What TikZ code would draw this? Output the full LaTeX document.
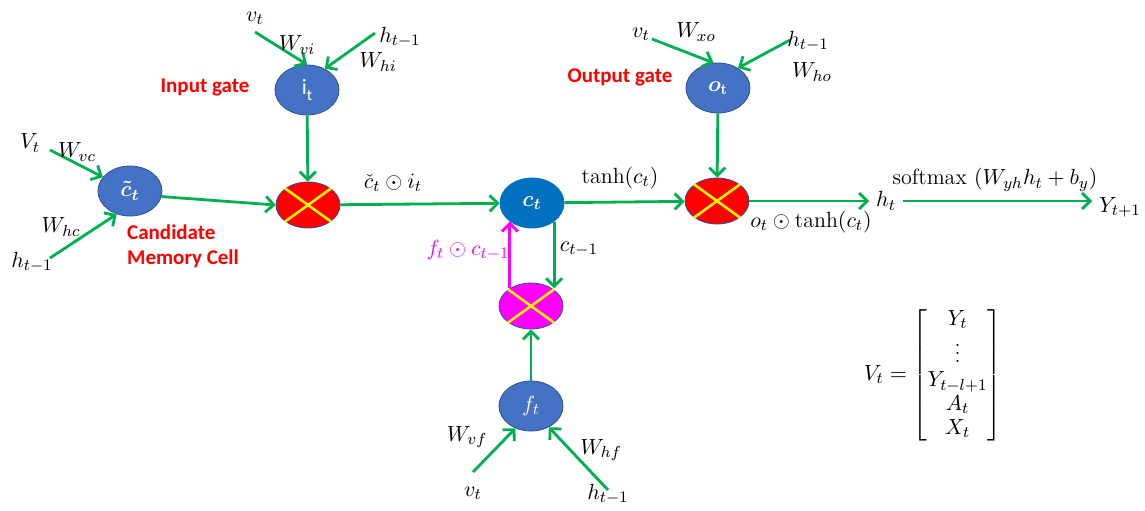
\documentclass[tikz,border=0pt]{standalone}
\usepackage{amsmath}
\usepackage{fontspec}
\newfontfamily\labelfont{Carlito}
\usetikzlibrary{arrows.meta,shapes.geometric}
\definecolor{flowgreen}{HTML}{00B050}
\definecolor{cellblue}{HTML}{4472C4}
\definecolor{cellrim}{HTML}{2F528F}
\definecolor{stateblue}{HTML}{0070C0}
\definecolor{forgetpink}{HTML}{FF00FF}

\begin{document}
\begin{tikzpicture}[
            x=0.5pt,
            y=-0.5pt,
            every node/.style={font=\fontsize{11}{13}\selectfont},
            unit/.style={ellipse, draw=cellrim, fill=cellblue, text=white,
              minimum width=32pt, minimum height=25pt, inner sep=0pt},
            mult/.style={unit, fill=red, minimum height=23pt},
            flow/.style={draw=flowgreen, line width=1.4pt,
              -{Straight Barb[length=4pt,width=8pt]}},
            cross/.style={draw=yellow, line width=1.3pt},
            gatelabel/.style={text=red, align=left,
              font=\labelfont\bfseries\fontsize{10.5}{12.5}\selectfont},
          ]
          \path[use as bounding box] (0,0) rectangle (1145,510);
          % cells and gates
          \node[unit] (cand) at (130,191) {$\boldsymbol{\tilde{c}_t}$};
          \node[unit] (igate) at (307,90) {\labelfont i\raisebox{-.5ex}{\footnotesize t}};
          \node[mult] (mi) at (308,205) {};
          \node[unit, fill=stateblue, draw=stateblue] (cstate) at (532,203) {$\boldsymbol{c_t}$};
          \node[mult, fill=forgetpink, draw=cellrim] (mf) at (531,306) {};
          \node[unit] (fgate) at (531,406) {$f_t$};
          \node[unit] (ogate) at (718,88) {$\boldsymbol{o}_{\mathbf{t}}$};
          \node[mult] (mo) at (717,201) {};
          \node (ht) at (886,201) {$h_t$};
          \node (yout) at (1120,207) {$Y_{t+1}$};
          \foreach \m in {mi,mf,mo} {
            \draw[cross] (\m.north east) -- (\m.south west);
            \draw[cross] (\m.north west) -- (\m.south east);
          }
          % inputs
          \coordinate (vc) at (50,150);
          \coordinate (hc) at (50,258);
          \coordinate (vi) at (255,32);
          \coordinate (hi) at (375,33);
          \coordinate (vo) at (652,39);
          \coordinate (ho) at (790,40);
          \coordinate (vf) at (473,472);
          \coordinate (hf) at (608,490);
          \draw[flow] (vc) -- (cand);
          \draw[flow] (hc) -- (cand.240);
          \draw[flow] (vi) -- (igate.north);
          \draw[flow] (hi) -- (igate.50);
          \draw[flow] (vo) -- (ogate.100);
          \draw[flow] (ho) -- (ogate.45);
          \draw[flow] (vf) -- (fgate.235);
          \draw[flow] (hf) -- (fgate.-50);
          % main flow
          \draw[flow] (cand.-10) -- (mi.west);
          \draw[flow] (igate) -- (mi);
          \draw[flow] (mi) -- (cstate);
          \draw[flow] (cstate) -- (mo);
          \draw[flow] (ogate) -- (mo);
          \draw[flow] (mo) -- (ht);
          \draw[flow] (ht) -- (ht -| yout.west);
          \draw[flow] (fgate) -- (mf);
          \draw[flow] (cstate.-40) -- (cstate.-40 |- mf.40);
          \draw[flow, draw=forgetpink] (mf.140) -- (mf.140 |- cstate.-140);
          % labels
          \node (lvc) at (30,143) {$V_t$};
          \node (lwvc) at (77,152) {$W_{vc}$};
          \node (lwhc) at (61,227) {$W_{hc}$};
          \node (lhc) at (32,262) {$h_{t-1}$};
          \node[gatelabel] (lcand) at (183,246) {Candidate\\Memory Cell};
          \node[gatelabel] (ligate) at (205,87) {Input gate};
          \node (lvi) at (255,18) {$v_t$};
          \node (lwvi) at (297,45) {$W_{vi}$};
          \node (lhi) at (400,37) {$h_{t-1}$};
          \node (lwhi) at (378,62) {$W_{hi}$};
          \node[gatelabel] (logate) at (620,77) {Output gate};
          \node (lvo) at (641,34) {$v_t$};
          \node (lwxo) at (696,32) {$W_{xo}$};
          \node (lho) at (808,41) {$h_{t-1}$};
          \node (lwho) at (812,72) {$W_{ho}$};
          \node (lwvf) at (467,437) {$W_{vf}$};
          \node (lvf) at (473,493) {$v_t$};
          \node (lwhf) at (601,450) {$W_{hf}$};
          \node (lhf) at (608,494) {$h_{t-1}$};
          \node (lci) at (393,183) {$\check{c}_t\odot i_t$};
          \node (ltanh) at (620,178) {$\tanh(c_t)$};
          \node (lcprev) at (579,249) {$c_{t-1}$};
          \node[text=forgetpink] (lfc) at (468,250) {$f_t\odot c_{t-1}$};
          \node (loc) at (811,222) {$o_t\odot\tanh(c_t)$};
          \node (lsoft) at (995,180) {$\mathrm{softmax}\ (W_{yh}h_t+b_y)$};
          \node (lvec) at (933,375) {\renewcommand{\arraystretch}{0.92}%
            $V_t=\begin{bmatrix} Y_t\\ \vdots\\ Y_{t-l+1}\\ A_t\\ X_t \end{bmatrix}$};
        \end{tikzpicture}
\end{document}
